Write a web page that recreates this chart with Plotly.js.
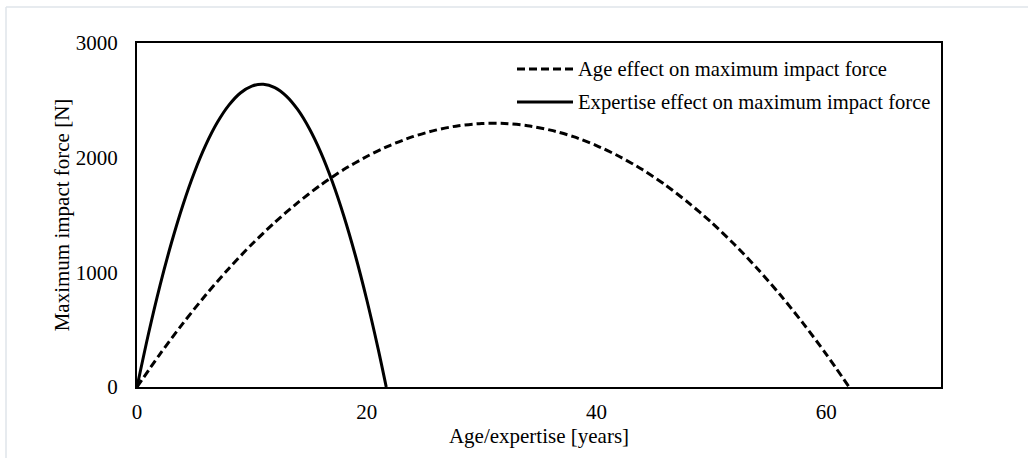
<!DOCTYPE html>
<html>
<head>
<meta charset="utf-8">
<script src="https://cdn.plot.ly/plotly-3.0.1.min.js"></script>
<style>
html,body{margin:0;padding:0;background:#fff;}
#chart{width:1028px;height:458px;}
</style>
</head>
<body>
<div id="chart"></div>
<script>
// Age effect curve (years, N)
const ageX = [0, 2, 4, 6, 8, 10, 12, 14, 16, 18, 20, 22, 24, 26, 28, 30, 32, 34, 36, 38, 40, 42, 44, 46, 48, 50, 52, 54, 56, 58, 60, 62];
const ageY = [0, 287, 555, 804, 1034, 1245, 1436, 1608, 1762, 1896, 2010, 2106, 2183, 2240, 2279, 2298, 2298, 2279, 2240, 2183, 2106, 2010, 1896, 1762, 1608, 1436, 1245, 1034, 804, 555, 287, 0];
// Expertise effect curve (years, N)
const expX = [0, 1, 2, 3, 4, 5, 6, 7, 8, 9, 10, 11, 12, 13, 14, 15, 16, 17, 18, 19, 20, 21, 21.7];
const expY = [0, 464, 884, 1258, 1588, 1873, 2113, 2308, 2458, 2564, 2624, 2640, 2611, 2537, 2418, 2254, 2046, 1792, 1494, 1151, 763, 330, 0];

const ageName = "Age effect on maximum impact force";
const expName = "Expertise effect on maximum impact force";
const xTicks = [0, 20, 40, 60];
const yTicks = [0, 1000, 2000, 3000];

const FONT = "'Liberation Serif', 'Times New Roman', Times, serif";
const FS = 21;
const LFS = 20.6;

const traces = [
  {x: ageX, y: ageY, name: ageName, type: "scatter", mode: "lines",
   line: {color: "#000", width: 3, dash: "8px,4px", shape: "spline", smoothing: 0.8}, showlegend: false},
  {x: expX, y: expY, name: expName, type: "scatter", mode: "lines",
   line: {color: "#000", width: 3, shape: "spline", smoothing: 0.8}, showlegend: false}
];

// pixel helpers for layout decorations (plot area 137..941 x 43..387)
const L = 137, R = 941, T = 43, B = 387;
const px = p => (p - L) / (R - L);
const py = p => (B - p) / (B - T);

const layout = {
  width: 1028, height: 458,
  margin: {l: L, r: 1028 - R, t: T, b: 458 - B, pad: 0},
  paper_bgcolor: "#fff", plot_bgcolor: "#fff",
  font: {family: FONT, size: FS, color: "#000"},
  showlegend: false,
  xaxis: {
    range: [0, 70], tickvals: xTicks, ticktext: xTicks.map(String),
    showgrid: false, zeroline: false, showline: true, mirror: true,
    linecolor: "#000", linewidth: 2, ticks: "", ticklabelstandoff: 5,
    tickfont: {family: FONT, size: FS, color: "#000"},
    title: {text: "Age/expertise [years]", font: {family: FONT, size: FS, color: "#000"}, standoff: 2}
  },
  yaxis: {
    range: [0, 3000], tickvals: yTicks, ticktext: yTicks.map(String),
    showgrid: false, zeroline: false, showline: true, mirror: true,
    linecolor: "#000", linewidth: 2, ticks: "", ticklabelstandoff: 13,
    tickfont: {family: FONT, size: FS, color: "#000"},
    title: {text: "Maximum impact force [N]", font: {family: FONT, size: FS, color: "#000"}, standoff: 0}
  },
  shapes: [
    {type: "line", xref: "paper", yref: "paper", x0: px(6), x1: px(1028), y0: py(7), y1: py(7), line: {color: "#dfe4ea", width: 1.5}},
    {type: "line", xref: "paper", yref: "paper", x0: px(6), x1: px(6), y0: py(7), y1: py(458), line: {color: "#dfe4ea", width: 1.5}},
    {type: "line", xref: "paper", yref: "paper", x0: px(517), x1: px(573), y0: py(69), y1: py(69), line: {color: "#000", width: 3, dash: "8px,4px"}},
    {type: "line", xref: "paper", yref: "paper", x0: px(517), x1: px(573), y0: py(102), y1: py(102), line: {color: "#000", width: 3}}
  ],
  annotations: [
    {xref: "paper", yref: "paper", x: px(576), y: py(69), xanchor: "left", yanchor: "middle", showarrow: false, text: ageName, font: {family: FONT, size: LFS, color: "#000"}},
    {xref: "paper", yref: "paper", x: px(576), y: py(102), xanchor: "left", yanchor: "middle", showarrow: false, text: expName, font: {family: FONT, size: LFS, color: "#000"}}
  ]
};

Plotly.newPlot("chart", traces, layout, {displayModeBar: false, staticPlot: true});
</script>
</body>
</html>
